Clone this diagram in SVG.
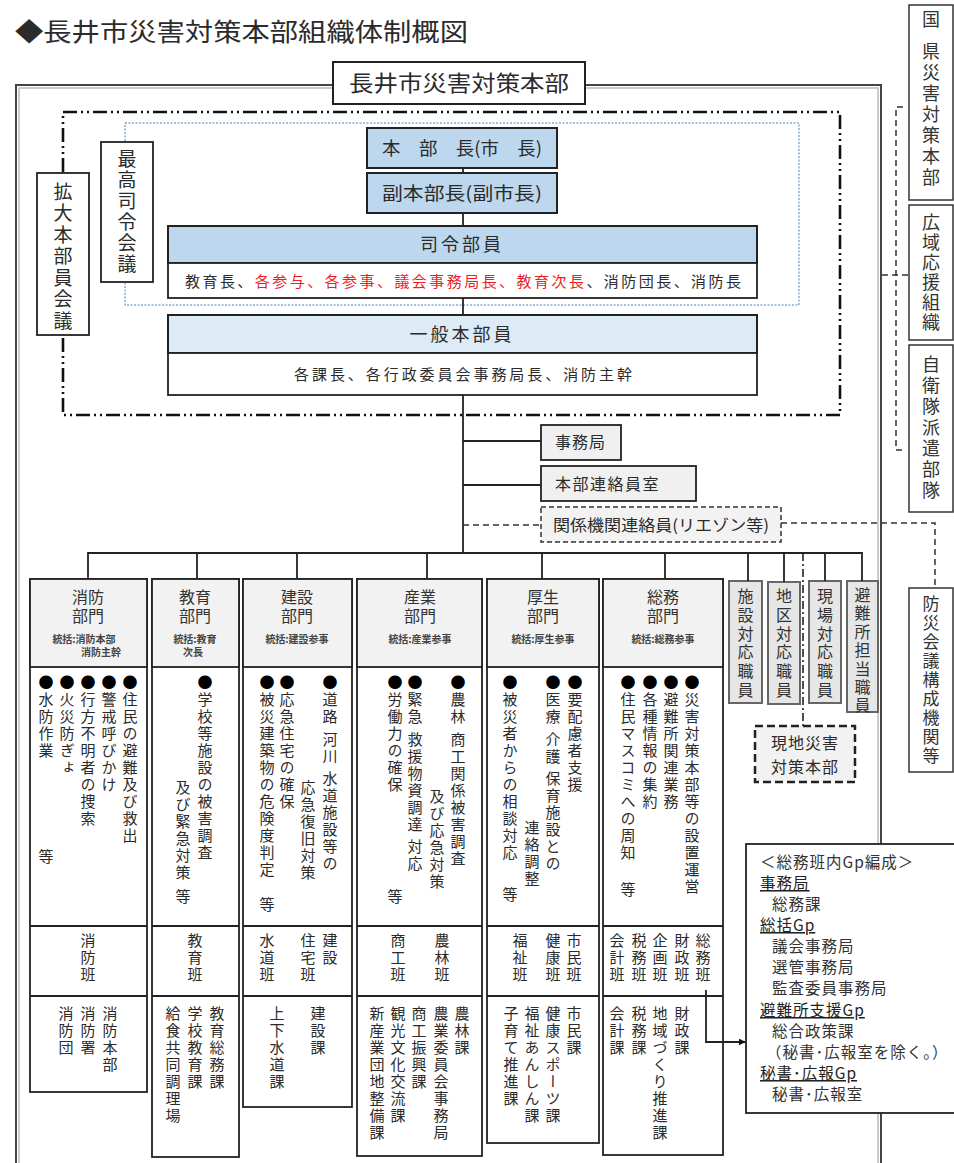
<svg xmlns="http://www.w3.org/2000/svg" width="954" height="1163" viewBox="0 0 954 1163">
<defs>
<marker id="arr" viewBox="0 0 10 10" refX="9" refY="5" markerWidth="7" markerHeight="7" orient="auto" markerUnits="userSpaceOnUse">
<path d="M0,0 L10,5 L0,10 z" fill="#111"/>
</marker>
</defs>
<style>
text { font-family: "Noto Sans CJK JP", "Noto Sans", sans-serif; fill: #2b2b2b; }
.v { writing-mode: vertical-rl; font-size: 15px; letter-spacing: 2px; }
.b { fill: #000; }
.box { fill: #fff; stroke: #222; stroke-width: 1.8; }
.hdr { fill: #f2f2f2; stroke: #222; stroke-width: 1.8; }
.blue { fill: #bdd7ee; stroke: #222; stroke-width: 2; }
.blue2 { fill: #ddebf7; stroke: #222; stroke-width: 2; }
.gray { fill: #f0f0f0; stroke: #222; stroke-width: 1.8; }
.vg { fill: #e6e6e6; stroke: #666; stroke-width: 2; }
.ln { stroke: #222; stroke-width: 1.8; fill: none; }
.dash { stroke: #333; stroke-width: 1.5; stroke-dasharray: 6 4; fill: none; }
.dn { font-size: 16px; fill: #333; text-anchor: middle; }
.sup { font-size: 10px; font-weight: bold; fill: #444; text-anchor: middle; }
.vb { writing-mode: vertical-rl; font-size: 16px; letter-spacing: 2.5px; fill: #333; }
.gp { font-size: 15.5px; fill: #333; letter-spacing: 1px; }
.gh { font-size: 15.5px; fill: #222; letter-spacing: 1px; text-decoration: underline; }
</style>

<rect width="954" height="1163" fill="#fff"/>

<text x="15" y="41" font-size="25" textLength="453" lengthAdjust="spacingAndGlyphs">◆長井市災害対策本部組織体制概図</text>

<g id="frame">
<rect x="16" y="85" width="865" height="1100" fill="none" stroke="#444" stroke-width="2"/>
<rect x="19" y="88" width="859" height="1100" fill="none" stroke="#bbb" stroke-width="1.5"/>
</g>

<g id="hq-title">
<rect x="333" y="62" width="252" height="42" fill="#fff" stroke="#222" stroke-width="2"/>
<text x="459" y="91" font-size="22" text-anchor="middle" textLength="220" lengthAdjust="spacingAndGlyphs">長井市災害対策本部</text>
</g>

<g id="expanded-region">
<rect x="63" y="112" width="777" height="303" fill="none" stroke="#111" stroke-width="2.6" stroke-dasharray="14 4 2 4 2 4"/>
</g>
<g id="supreme-region">
<rect x="125" y="123" width="674" height="182" fill="none" stroke="#4a7ebb" stroke-width="1" stroke-dasharray="2 1.5"/>
</g>

<g id="kakudai">
<rect class="box" x="37" y="173" width="52" height="162"/>
<text class="v" x="63" y="182" style="font-size:19px;letter-spacing:2.5px">拡大本部員会議</text>
</g>
<g id="saiko">
<rect class="box" x="101" y="142" width="52" height="140"/>
<text class="v" x="127" y="149" style="font-size:19px;letter-spacing:2px">最高司令会議</text>
</g>

<g id="honbucho">
<rect class="blue" x="367" y="128" width="190" height="40"/>
<text x="462" y="155" font-size="18" text-anchor="middle" textLength="160" lengthAdjust="spacingAndGlyphs">本　部　長(市　長)</text>
</g>
<g id="fukuhonbucho">
<rect class="blue" x="367" y="173" width="190" height="40"/>
<text x="462" y="200" font-size="18" text-anchor="middle" textLength="160" lengthAdjust="spacingAndGlyphs">副本部長(副市長)</text>
</g>

<g id="shireibuin">
<rect class="blue" x="168" y="226" width="589" height="37"/>
<rect class="box" x="168" y="263" width="589" height="35"/>
<text x="462" y="251" font-size="18" text-anchor="middle" letter-spacing="3">司令部員</text>
<text x="185" y="287" font-size="15" textLength="556" lengthAdjust="spacing">教育長、<tspan fill="#ee1c24">各参与、各参事、議会事務局長、教育次長</tspan>、消防団長、消防長</text>
</g>

<g id="ippanhonbuin">
<rect class="blue2" x="168" y="315" width="589" height="38"/>
<rect class="box" x="168" y="353" width="589" height="42"/>
<text x="462" y="341" font-size="18" text-anchor="middle" letter-spacing="3">一般本部員</text>
<text x="294" y="380" font-size="15" textLength="338" lengthAdjust="spacing">各課長、各行政委員会事務局長、消防主幹</text>
</g>

<g id="jimukyoku">
<rect class="gray" x="541" y="425" width="80" height="35"/>
<text x="555" y="448" font-size="16" letter-spacing="1">事務局</text>
</g>
<g id="renrakuinshitsu">
<rect class="gray" x="541" y="466" width="155" height="35"/>
<text x="555" y="490" font-size="16" letter-spacing="1.5">本部連絡員室</text>
</g>
<g id="liaison">
<rect x="541" y="507" width="240" height="35" fill="#f2f2f2" stroke="#333" stroke-width="1.5" stroke-dasharray="5 3"/>
<text x="553" y="531" font-size="16" textLength="216" lengthAdjust="spacingAndGlyphs">関係機関連絡員(リエゾン等)</text>
</g>

<g id="kuni">
<rect x="909" y="5" width="44" height="195" fill="#fff" stroke="#333" stroke-width="1.5"/>
<text class="vb" x="931" y="10" style="font-size:18px">国</text>
<text class="vb" x="931" y="42" style="font-size:18px;letter-spacing:3px">県災害対策本部</text>
</g>
<g id="koiki">
<rect x="909" y="205" width="44" height="135" fill="#fff" stroke="#333" stroke-width="1.5"/>
<text class="vb" x="931" y="213" style="font-size:18px;letter-spacing:2px">広域応援組織</text>
</g>
<g id="jieitai">
<rect x="909" y="345" width="44" height="167" fill="#fff" stroke="#333" stroke-width="1.5"/>
<text class="vb" x="931" y="355" style="font-size:18px;letter-spacing:3px">自衛隊派遣部隊</text>
</g>
<g id="bosaikaigi">
<rect x="909" y="588" width="44" height="184" fill="#fff" stroke="#333" stroke-width="1.5"/>
<text class="vb" x="931" y="595" style="font-size:17px;letter-spacing:2px">防災会議構成機関等</text>
</g>

<g id="shisetsu">
<rect class="vg" x="729" y="581" width="33" height="122"/>
<text class="vb" x="745.5" y="588" style="letter-spacing:2.8px">施設対応職員</text>
</g>
<g id="chiku">
<rect class="vg" x="768" y="582" width="32" height="122"/>
<text class="vb" x="784" y="588" style="letter-spacing:2.8px">地区対応職員</text>
</g>
<g id="genba">
<rect class="vg" x="809" y="581" width="32" height="122"/>
<text class="vb" x="825" y="588" style="letter-spacing:2.8px">現場対応職員</text>
</g>
<g id="hinanjo">
<rect class="vg" x="847" y="581" width="31" height="131"/>
<text class="vb" x="862.5" y="587" style="letter-spacing:2.4px">避難所担当職員</text>
</g>
<g id="genchi">
<rect x="755" y="726" width="100" height="56" fill="#f2f2f2" stroke="#222" stroke-width="2.5" stroke-dasharray="8 4"/>
<text font-size="16" text-anchor="middle" letter-spacing="1"><tspan x="805" y="749">現地災害</tspan><tspan x="805" y="773">対策本部</tspan></text>
</g>

<g id="shobo">
<rect class="box" x="30" y="579" width="117" height="513"/>
<rect class="hdr" x="30" y="579" width="117" height="88"/>
<line class="ln" x1="30" y1="926" x2="147" y2="926"/>
<line class="ln" x1="30" y1="996" x2="147" y2="996"/>
<text class="dn"><tspan x="88" y="603">消防</tspan><tspan x="88" y="622">部門</tspan></text>
<text class="sup"><tspan x="84" y="643">統括:消防本部</tspan><tspan x="101" y="656">消防主幹</tspan></text>
<text class="v" x="130" y="675"><tspan class="b">●</tspan>住民の避難及び救出</text>
<text class="v" x="109" y="675"><tspan class="b">●</tspan>警戒呼びかけ</text>
<text class="v" x="88" y="675"><tspan class="b">●</tspan>行方不明者の捜索</text>
<text class="v" x="67" y="675"><tspan class="b">●</tspan>火災防ぎょ</text>
<text class="v" x="46" y="675"><tspan class="b">●</tspan>水防作業</text>
<text class="v" x="46" y="849">等</text>
<text class="v" x="88" y="933">消防班</text>
<text class="v" x="110" y="1006">消防本部</text>
<text class="v" x="88" y="1006">消防署</text>
<text class="v" x="66" y="1006">消防団</text>
</g>

<g id="kyoiku">
<rect class="box" x="152" y="579" width="87" height="578"/>
<rect class="hdr" x="152" y="579" width="87" height="88"/>
<line class="ln" x1="152" y1="926" x2="239" y2="926"/>
<line class="ln" x1="152" y1="996" x2="239" y2="996"/>
<text class="dn"><tspan x="195" y="603">教育</tspan><tspan x="195" y="622">部門</tspan></text>
<text class="sup"><tspan x="195" y="643">統括:教育</tspan><tspan x="193" y="656">次長</tspan></text>
<text class="v" x="205" y="675"><tspan class="b">●</tspan>学校等施設の被害調査</text>
<text class="v" x="183" y="780">及び緊急対策</text>
<text class="v" x="183" y="889">等</text>
<text class="v" x="195" y="933">教育班</text>
<text class="v" x="217" y="1006">教育総務課</text>
<text class="v" x="195" y="1006">学校教育課</text>
<text class="v" x="173" y="1006">給食共同調理場</text>
</g>

<g id="kensetsu">
<rect class="box" x="243" y="579" width="109" height="528"/>
<rect class="hdr" x="243" y="579" width="109" height="88"/>
<line class="ln" x1="243" y1="926" x2="352" y2="926"/>
<line class="ln" x1="243" y1="996" x2="352" y2="996"/>
<text class="dn"><tspan x="297" y="603">建設</tspan><tspan x="297" y="622">部門</tspan></text>
<text class="sup" x="297" y="643">統括:建設参事</text>
<text class="v" x="330" y="675"><tspan class="b">●</tspan>道路 河川 水道施設等の</text>
<text class="v" x="308" y="780">応急復旧対策</text>
<text class="v" x="287" y="675"><tspan class="b">●</tspan>応急住宅の確保</text>
<text class="v" x="267" y="675"><tspan class="b">●</tspan>被災建築物の危険度判定</text>
<text class="v" x="267" y="897">等</text>
<text class="v" x="330" y="933">建設</text>
<text class="v" x="308" y="933">住宅班</text>
<text class="v" x="267" y="933">水道班</text>
<text class="v" x="318" y="1006">建設課</text>
<text class="v" x="277" y="1006">上下水道課</text>
</g>

<g id="sangyo">
<rect class="box" x="357" y="579" width="125" height="577"/>
<rect class="hdr" x="357" y="579" width="125" height="88"/>
<line class="ln" x1="357" y1="926" x2="482" y2="926"/>
<line class="ln" x1="357" y1="996" x2="482" y2="996"/>
<text class="dn"><tspan x="420" y="603">産業</tspan><tspan x="420" y="622">部門</tspan></text>
<text class="sup" x="420" y="643">統括:産業参事</text>
<text class="v" x="458" y="675"><tspan class="b">●</tspan>農林 商工関係被害調査</text>
<text class="v" x="437" y="789">及び応急対策</text>
<text class="v" x="415" y="675"><tspan class="b">●</tspan>緊急 救援物資調達 対応</text>
<text class="v" x="395" y="675"><tspan class="b">●</tspan>労働力の確保</text>
<text class="v" x="395" y="889">等</text>
<text class="v" x="442" y="933">農林班</text>
<text class="v" x="398" y="933">商工班</text>
<text class="v" x="462" y="1006">農林課</text>
<text class="v" x="441" y="1006">農業委員会事務局</text>
<text class="v" x="419" y="1006">商工振興課</text>
<text class="v" x="398" y="1006">観光文化交流課</text>
<text class="v" x="377" y="1006">新産業団地整備課</text>
</g>

<g id="kosei">
<rect class="box" x="487" y="579" width="112" height="564"/>
<rect class="hdr" x="487" y="579" width="112" height="88"/>
<line class="ln" x1="487" y1="926" x2="599" y2="926"/>
<line class="ln" x1="487" y1="996" x2="599" y2="996"/>
<text class="dn"><tspan x="543" y="603">厚生</tspan><tspan x="543" y="622">部門</tspan></text>
<text class="sup" x="543" y="643">統括:厚生参事</text>
<text class="v" x="575" y="675"><tspan class="b">●</tspan>要配慮者支援</text>
<text class="v" x="553" y="675"><tspan class="b">●</tspan>医療 介護 保育施設との</text>
<text class="v" x="532" y="820">連絡調整</text>
<text class="v" x="510" y="675"><tspan class="b">●</tspan>被災者からの相談対応</text>
<text class="v" x="510" y="887">等</text>
<text class="v" x="574" y="933">市民班</text>
<text class="v" x="553" y="933">健康班</text>
<text class="v" x="520" y="933">福祉班</text>
<text class="v" x="574" y="1006">市民課</text>
<text class="v" x="553" y="1006">健康スポーツ課</text>
<text class="v" x="532" y="1006">福祉あんしん課</text>
<text class="v" x="511" y="1006">子育て推進課</text>
</g>

<g id="somu">
<rect class="box" x="603" y="579" width="120" height="576"/>
<rect class="hdr" x="603" y="579" width="120" height="88"/>
<line class="ln" x1="603" y1="926" x2="723" y2="926"/>
<line class="ln" x1="603" y1="996" x2="723" y2="996"/>
<text class="dn"><tspan x="663" y="603">総務</tspan><tspan x="663" y="622">部門</tspan></text>
<text class="sup" x="663" y="643">統括:総務参事</text>
<text class="v" x="692" y="675"><tspan class="b">●</tspan>災害対策本部等の設置運営</text>
<text class="v" x="671" y="675"><tspan class="b">●</tspan>避難所関連業務</text>
<text class="v" x="650" y="675"><tspan class="b">●</tspan>各種情報の集約</text>
<text class="v" x="628" y="675"><tspan class="b">●</tspan>住民マスコミへの周知</text>
<text class="v" x="628" y="882">等</text>
<text class="v" x="703" y="933">総務班</text>
<text class="v" x="682" y="933">財政班</text>
<text class="v" x="660" y="933">企画班</text>
<text class="v" x="639" y="933">税務班</text>
<text class="v" x="617" y="933">会計班</text>
<text class="v" x="682" y="1006">財政課</text>
<text class="v" x="660" y="1006">地域づくり推進課</text>
<text class="v" x="639" y="1006">税務課</text>
<text class="v" x="617" y="1006">会計課</text>
</g>

<g id="gp-box">
<rect x="746" y="844" width="215" height="269" fill="#fff" stroke="#222" stroke-width="1.8"/>
<text class="gp" x="760" y="868">＜総務班内Gp編成＞</text>
<text class="gh" x="760" y="889">事務局</text>
<text class="gp" x="772" y="910">総務課</text>
<text class="gh" x="760" y="931">総括Gp</text>
<text class="gp" x="772" y="952">議会事務局</text>
<text class="gp" x="772" y="973">選管事務局</text>
<text class="gp" x="772" y="994">監査委員事務局</text>
<text class="gh" x="760" y="1016">避難所支援Gp</text>
<text class="gp" x="772" y="1037">総合政策課</text>
<text class="gp" x="766" y="1058">（秘書･広報室を除く。）</text>
<text class="gh" x="760" y="1079">秘書･広報Gp</text>
<text class="gp" x="772" y="1100">秘書･広報室</text>
</g>

<g id="connectors">
<line class="ln" x1="463" y1="168" x2="463" y2="173"/>
<line class="ln" x1="463" y1="213" x2="463" y2="226"/>
<line class="ln" x1="463" y1="298" x2="463" y2="315"/>
<line class="ln" x1="463" y1="395" x2="463" y2="553"/>
<line class="ln" x1="463" y1="441" x2="541" y2="441"/>
<line class="ln" x1="463" y1="485" x2="541" y2="485"/>
<line class="dash" x1="463" y1="525" x2="541" y2="525"/>
<path class="dash" d="M781,523 H935 V588"/>
<path class="dash" d="M903,107 H896 V450 H903"/>
<line class="dash" x1="882" y1="275" x2="909" y2="275"/>
<path class="ln" d="M88,579 V553 H862 V581"/>
<line class="ln" x1="197" y1="553" x2="197" y2="579"/>
<line class="ln" x1="297" y1="553" x2="297" y2="579"/>
<line class="ln" x1="427" y1="553" x2="427" y2="579"/>
<line class="ln" x1="542" y1="553" x2="542" y2="579"/>
<line class="ln" x1="665" y1="553" x2="665" y2="579"/>
<line class="ln" x1="748" y1="553" x2="748" y2="581"/>
<line class="ln" x1="784" y1="553" x2="784" y2="582" stroke-width="3"/>
<line class="ln" x1="825" y1="553" x2="825" y2="581"/>
<line x1="803" y1="553" x2="803" y2="726" stroke="#222" stroke-width="1.6" stroke-dasharray="8 3 2 3"/>
<path class="ln" d="M706,990 V1042 H745" marker-end="url(#arr)"/>
</g>
</svg>
